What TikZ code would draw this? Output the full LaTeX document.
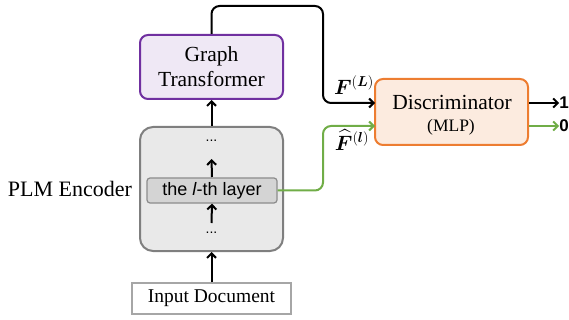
\documentclass[tikz,border=0pt]{standalone}
\usepackage{fontspec}
\usepackage{amsmath,bm}
\setmainfont{Liberation Serif}
\setsansfont{Liberation Sans}
\usetikzlibrary{arrows.meta}
\definecolor{gtpurple}{HTML}{7030A0}
\definecolor{gtfill}{HTML}{EFE8F5}
\definecolor{dorange}{HTML}{ED7D31}
\definecolor{dfill}{HTML}{FCEBDF}
\definecolor{encfill}{HTML}{E9E9E9}
\definecolor{encline}{HTML}{7F7F7F}
\definecolor{layfill}{HTML}{D4D4D4}
\definecolor{laylinE}{HTML}{8C8C8C}
\definecolor{inline}{HTML}{A6A6A6}
\definecolor{fgreen}{HTML}{70AD47}
\tikzset{
  blk/.style={draw, line width=2pt, align=center, inner sep=0pt},
  flow/.style={line width=2pt, -{Straight Barb[length=4.5pt,width=9pt]}},
  lbl/.style={font=\fontsize{20}{22}\selectfont, inner sep=0pt},
}
\begin{document}
\begin{tikzpicture}[x=1pt,y=-1pt]
\useasboundingbox (0,0) rectangle (569,320);

% blocks
\node[blk, draw=gtpurple, fill=gtfill, rounded corners=8pt,
      minimum width=143pt, minimum height=64pt,
      font=\fontsize{21.5}{25}\selectfont] (gt) at (211.5,67) {Graph\\Transformer};
\node[blk, draw=encline, fill=encfill, rounded corners=13pt,
      minimum width=143pt, minimum height=124pt] (plm) at (211.5,189) {};
\node[blk, draw=laylinE, fill=layfill, line width=1.2pt, rounded corners=3pt,
      minimum width=130pt, minimum height=25pt,
      font=\sffamily\fontsize{18}{20}\selectfont] (layer) at (212,190.5) {the \textit{l}-th layer};
\node[font=\sffamily\fontsize{14}{16}\selectfont, inner sep=0pt] (dtop) at (211.5,141) {...};
\node[font=\sffamily\fontsize{14}{16}\selectfont, inner sep=0pt] (dbot) at (211.5,233) {...};
\node[blk, draw=inline, fill=white, line width=1.5pt,
      minimum width=159pt, minimum height=31pt,
      font=\fontsize{19.5}{22}\selectfont] (inp) at (211.5,298.5) {Input Document};
\node[blk, draw=dorange, fill=dfill, rounded corners=8pt,
      minimum width=153pt, minimum height=66pt] (disc) at (451.5,112) {};
\node[font=\fontsize{21.5}{24}\selectfont, inner sep=0pt] (dname) at (452,102) {Discriminator};
\node[font=\fontsize{17.5}{20}\selectfont, inner sep=0pt] (dmlp) at (451,127) {(MLP)};
\node[font=\fontsize{22}{24}\selectfont, inner sep=0pt] (enc) at (70,189) {PLM Encoder};

% output labels
\node[font=\sffamily\bfseries\fontsize{17}{18}\selectfont, inner sep=0pt] (one) at (564,103) {1};
\node[font=\sffamily\bfseries\fontsize{17}{18}\selectfont, inner sep=0pt] (zero) at (564,126) {0};

% feature labels
\node[lbl] (fL) at (354,85) {$\bm{F}^{(\bm{L})}$};
\node[lbl] (fl) at (352,140) {$\widehat{\bm{F}}^{(\bm{l})}$};

% turning points and ports
\coordinate (topturn) at (323,6);
\coordinate (inL) at (375,103);
\coordinate (greenturn) at (323,126);
\coordinate (inl) at (375,126);
\coordinate (uTail) at (211.5,177);
\coordinate (uHead) at (211.5,159);
\coordinate (lTail) at (211.5,223);

% connectors
\draw[flow] (plm.north) -- (gt.south);
\draw[flow] (inp.north) -- (plm.south);
\draw[flow] (layer.north |- uTail) -- (uHead);
\draw[flow] (lTail) -- (layer.south);
\draw[flow, rounded corners=8pt] (gt.north) |- (topturn) |- (inL);
\draw[flow, fgreen, rounded corners=8pt] (layer.east) -| (greenturn) -- (inl);
\draw[flow] (disc.east |- one) -- (one.west);
\draw[flow, fgreen] (disc.east |- zero) -- (zero.west);
\end{tikzpicture}
\end{document}
